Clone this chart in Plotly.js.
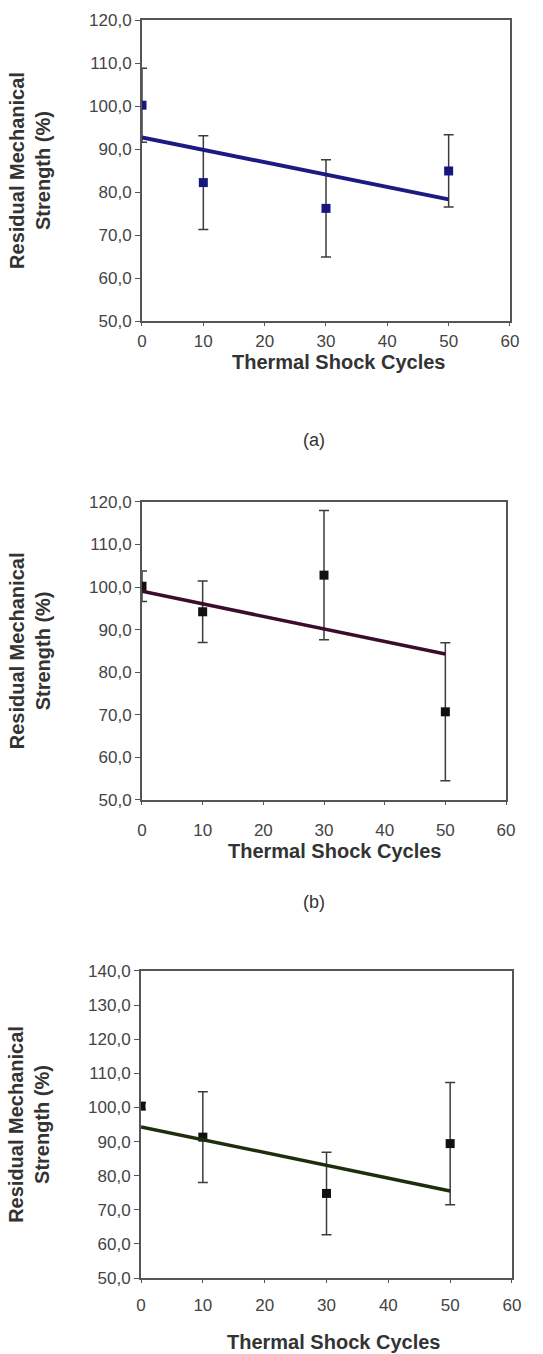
<!DOCTYPE html>
<html>
<head>
<meta charset="utf-8">
<script src="https://cdn.plot.ly/plotly-3.0.1.min.js"></script>
<style>
  html, body { margin: 0; padding: 0; background: #fff; }
  #chart { width: 543px; height: 1354px; }
</style>
</head>
<body>
<div id="chart"></div>
<script>
// Thermal shock cycles (x values)
const cycles = [0, 10, 30, 50];

// Panel (a)
const strengthA = [100.2, 82.2, 76.2, 84.9];
const errorA = [8.6, 10.9, 11.3, 8.4];
const trendXA = [0, 50];
const trendYA = [92.7, 78.3];

// Panel (b)
const strengthB = [100.2, 94.2, 102.8, 70.7];
const errorB = [3.6, 7.2, 15.2, 16.2];
const trendXB = [0, 50];
const trendYB = [99.0, 84.3];

// Panel (c)
const strengthC = [100.4, 91.3, 74.8, 89.4];
const errorC = [1.0, 13.3, 12.1, 17.9];
const trendXC = [0, 50];
const trendYC = [94.3, 75.5];

const xTitle = "Thermal Shock Cycles";
const yTitle = "Residual Mechanical<br>Strength (%)";
const panelLabels = ["(a)", "(b)"];

const FONT = "Liberation Sans, Arial, sans-serif";
const axisGray = "#555555";
const textGray = "#444444";

function pointsTrace(y, err, color, xa, ya) {
  return {
    x: cycles, y: y, type: "scatter", mode: "markers",
    xaxis: xa, yaxis: ya,
    marker: { symbol: "square", size: 9, color: color },
    error_y: { type: "data", array: err, visible: true, color: "#3c3c3c", thickness: 1.5, width: 5 },
    showlegend: false, hoverinfo: "x+y"
  };
}
function trendTrace(x, y, color, width, xa, ya) {
  return {
    x: x, y: y, type: "scatter", mode: "lines",
    xaxis: xa, yaxis: ya,
    line: { color: color, width: width },
    showlegend: false, hoverinfo: "skip"
  };
}

const data = [
  pointsTrace(strengthA, errorA, "#16167e", "x", "y"),
  trendTrace(trendXA, trendYA, "#1b1b82", 4, "x", "y"),
  pointsTrace(strengthB, errorB, "#111111", "x2", "y2"),
  trendTrace(trendXB, trendYB, "#3a0d2c", 3.5, "x2", "y2"),
  pointsTrace(strengthC, errorC, "#111111", "x3", "y3"),
  trendTrace(trendXC, trendYC, "#1e2e0c", 3.5, "x3", "y3")
];

function xAxis(domain, anchor, labelStandoff) {
  return {
    domain: domain, anchor: anchor, range: [0, 60], dtick: 10, tick0: 0,
    showgrid: false, zeroline: false,
    showline: true, mirror: true, linecolor: axisGray, linewidth: 2,
    ticks: "outside", ticklen: 3, tickwidth: 1, tickcolor: axisGray,
    ticklabelstandoff: labelStandoff,
    tickfont: { family: FONT, size: 17, color: textGray }
  };
}
function yAxis(domain, anchor, range) {
  return {
    domain: domain, anchor: anchor, range: range, dtick: 10, tick0: 50,
    tickformat: ".1f",
    showgrid: false, zeroline: false,
    showline: true, mirror: true, linecolor: axisGray, linewidth: 2,
    ticks: "outside", ticklen: 5, tickwidth: 1, tickcolor: axisGray,
    tickfont: { family: FONT, size: 17, color: textGray },
    title: { text: yTitle, standoff: 33,
             font: { family: FONT, size: 20, color: "#333333", weight: "bold" } }
  };
}

function xTitleAnn(xPix, yPix) {
  return { text: xTitle, xref: "paper", yref: "paper", x: xPix / 543, y: 1 - yPix / 1354,
           showarrow: false, xanchor: "center", yanchor: "middle",
           font: { family: FONT, size: 20, color: "#333333", weight: "bold" } };
}
function panelAnn(label, yPix) {
  return { text: label, xref: "paper", yref: "paper", x: 314 / 543, y: 1 - yPix / 1354,
           showarrow: false, xanchor: "center", yanchor: "middle",
           font: { family: FONT, size: 18, color: "#333333" } };
}

const layout = {
  width: 543, height: 1354,
  margin: { l: 0, r: 0, t: 0, b: 0 },
  paper_bgcolor: "#ffffff", plot_bgcolor: "#ffffff",
  separators: ",.",
  showlegend: false,
  xaxis: xAxis([0.2615, 0.9392], "y", 1),
  yaxis: yAxis([0.7629, 0.9852], "x", [50, 120]),
  xaxis2: xAxis([0.2615, 0.9319], "y2", 11),
  yaxis2: yAxis([0.4092, 0.6293], "x2", [50, 120]),
  xaxis3: xAxis([0.2597, 0.9429], "y3", 8),
  yaxis3: yAxis([0.0561, 0.2829], "x3", [50, 140]),
  annotations: [
    xTitleAnn(338, 362),
    xTitleAnn(334, 851),
    xTitleAnn(333, 1342),
    panelAnn(panelLabels[0], 440),
    panelAnn(panelLabels[1], 902)
  ]
};

Plotly.newPlot("chart", data, layout, { staticPlot: true, displayModeBar: false });
</script>
</body>
</html>
